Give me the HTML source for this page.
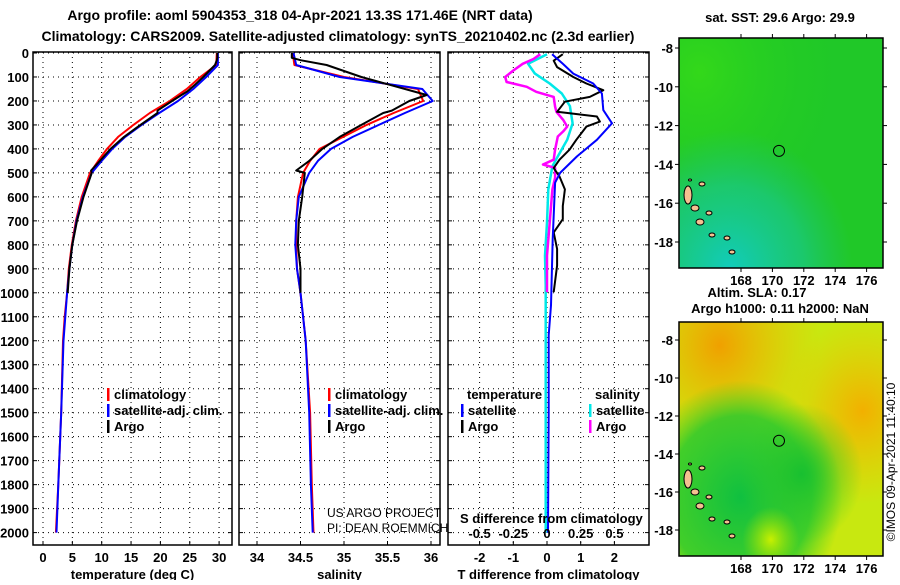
<!DOCTYPE html>
<html><head><meta charset="utf-8">
<style>
html,body{margin:0;padding:0;background:#fff;}
svg text{font-family:"Liberation Sans",sans-serif;}
.b{font-weight:bold;font-size:13px;}
.t{font-weight:bold;font-size:14px;}
</style></head>
<body>
<svg id="chart" width="900" height="580" viewBox="0 0 900 580" xmlns="http://www.w3.org/2000/svg">
<defs>
<radialGradient id="g1a" cx="0.1" cy="0.15" r="0.7"><stop offset="0" stop-color="#33d81a"/><stop offset="1" stop-color="#22cc22" stop-opacity="0"/></radialGradient>
<radialGradient id="g1b" cx="0.25" cy="1" r="0.6"><stop offset="0" stop-color="#11ccbb"/><stop offset="0.6" stop-color="#18c89a" stop-opacity="0.6"/><stop offset="1" stop-color="#1cc080" stop-opacity="0"/></radialGradient>
<radialGradient id="g2a" cx="0.2" cy="0.1" r="0.5"><stop offset="0" stop-color="#f0a000"/><stop offset="1" stop-color="#f0c000" stop-opacity="0"/></radialGradient>
<radialGradient id="g2b" cx="0.9" cy="0.38" r="0.4"><stop offset="0" stop-color="#f2b000"/><stop offset="1" stop-color="#f2c000" stop-opacity="0"/></radialGradient>
<radialGradient id="g2c" cx="0.3" cy="0.75" r="0.5"><stop offset="0" stop-color="#10c040"/><stop offset="0.7" stop-color="#20c830" stop-opacity="0.8"/><stop offset="1" stop-color="#40d020" stop-opacity="0"/></radialGradient>
<radialGradient id="g2d" cx="0.6" cy="0.65" r="0.3"><stop offset="0" stop-color="#18c030"/><stop offset="1" stop-color="#30c828" stop-opacity="0"/></radialGradient>
<radialGradient id="g2e" cx="0.45" cy="0.93" r="0.14"><stop offset="0" stop-color="#c8f000"/><stop offset="1" stop-color="#a0e000" stop-opacity="0"/></radialGradient>
</defs>
<g id="plots"></g>
<text class="t" x="300" y="20" text-anchor="middle">Argo profile: aoml 5904353_318 04-Apr-2021 13.3S 171.46E (NRT data)</text>
<text class="t" x="338" y="41" text-anchor="middle">Climatology: CARS2009. Satellite-adjusted climatology: synTS_20210402.nc (2.3d earlier)</text>

<g>
<text class="b" x="780" y="22" text-anchor="middle" font-size="12">sat. SST: 29.6 Argo: 29.9</text>
<rect x="679" y="38" width="204" height="230" fill="#20c828"/>
<rect x="679" y="38" width="204" height="230" fill="url(#g1a)"/>
<rect x="679" y="38" width="204" height="230" fill="url(#g1b)"/>
</g>
<g>
<text class="b" x="757" y="297" text-anchor="middle" font-size="12">Altim. SLA: 0.17</text>
<text class="b" x="780" y="313" text-anchor="middle" font-size="12">Argo h1000: 0.11 h2000: NaN</text>
<rect x="679" y="322" width="204" height="234" fill="#c8e810"/>
<rect x="679" y="322" width="204" height="234" fill="url(#g2a)"/>
<rect x="679" y="322" width="204" height="234" fill="url(#g2b)"/>
<rect x="679" y="322" width="204" height="234" fill="url(#g2c)"/>
<rect x="679" y="322" width="204" height="234" fill="url(#g2d)"/>
<rect x="679" y="322" width="204" height="234" fill="url(#g2e)"/>
</g>
<g id="maps-overlay"></g>
<text x="0" y="0" font-size="12" transform="translate(895,462) rotate(-90)" text-anchor="middle">©IMOS 09-Apr-2021 11:40:10</text>
</svg>
<script>
// ---------- data ----------
const depthTicks=[0,100,200,300,400,500,600,700,800,900,1000,1100,1200,1300,1400,1500,1600,1700,1800,1900,2000];
const tempTicks=[0,5,10,15,20,25,30];
const salTicks=[34,34.5,35,35.5,36];
const dTTicks=[-2,-1,0,1,2];
const dSTicks=[-0.5,-0.25,0,0.25,0.5];
const dSTickLabels=['-0.5','-0.25','0','0.25','0.5'];

const climDepth=[0,50,100,150,200,250,300,350,400,450,500,600,700,800,900,1000,1100,1200,1500,1800,2000];
const tempClim=[29.6,29.5,26.8,24.5,21.6,18.2,15.4,12.8,10.9,9.4,8.0,6.6,5.6,4.9,4.4,4.1,3.7,3.4,3.1,2.6,2.2];
const tempSat=[29.8,29.8,27.8,25.6,23.0,19.8,16.8,14.0,11.8,10.0,8.3,6.8,5.7,5.0,4.5,4.1,3.8,3.5,3.1,2.6,2.3];
const salClim=[34.41,34.43,35.0,35.85,35.91,35.57,35.26,34.99,34.72,34.61,34.53,34.47,34.45,34.45,34.46,34.5,34.53,34.56,34.61,34.63,34.65];
const salSat=[34.42,34.45,34.95,35.9,36.02,35.7,35.4,35.1,34.85,34.7,34.6,34.48,34.45,34.44,34.46,34.5,34.53,34.56,34.6,34.62,34.64];

const argoDepth=[0,20,30,50,100,130,160,175,200,240,250,300,350,400,450,490,500,600,700,800,900,1000];
const tempArgo=[29.7,29.7,29.6,29.3,27.3,26.0,24.6,23.6,22.0,19.5,19.5,16.6,13.8,11.5,9.7,8.2,8.3,6.9,5.8,5.0,4.5,4.2];
const salArgo=[34.4,34.4,34.5,34.8,35.2,35.5,35.8,35.95,35.75,35.55,35.45,35.2,34.95,34.75,34.6,34.45,34.55,34.52,34.48,34.47,34.5,34.5];

const dTSatDepth=[5,45,86,127,169,238,293,362,431,500,541,776,1052,1176,1500,2000];
const dTSat=[0.15,0.47,0.78,1.37,1.63,1.67,1.93,1.48,0.89,0.39,0.24,0.17,0.12,0.05,0.05,0.03];
const dTArgoDepth=[5,32,59,100,127,155,183,203,245,265,286,307,362,403,445,480,515,569,638,693,748,817,886,942,997];
const dTArgo=[0.47,0.2,0.3,0.78,1.17,1.67,1.27,0.53,0.3,1.48,1.57,1.17,0.87,0.67,0.37,0.2,0.37,0.53,0.47,0.47,0.2,0.3,0.3,0.25,0.2];
const dSSatDepth=[5,45,86,127,169,221,293,362,431,472,569,707,845,969,1500,2000];
const dSSat=[0,-0.14,-0.09,0.02,0.11,0.17,0.19,0.15,0.08,0.04,0.01,0,-0.015,-0.01,-0.01,-0.01];
const dSArgoDepth=[5,25,45,73,100,121,141,162,183,224,245,279,307,327,348,403,445,465,479,520,569,707,845,997];
const dSArgo=[-0.05,-0.1,-0.18,-0.25,-0.31,-0.3,-0.15,-0.08,0.05,0.06,0.07,0.12,0.15,0.12,0.08,0.06,0.05,-0.03,0.06,0.06,0.04,0.02,0,0];

// ---------- layout ----------
const NS='http://www.w3.org/2000/svg';
const plots=document.getElementById('plots');
const Y0=53, PY=0.2398, BOT=545, TOP=52;
const yScale=d=>Y0+d*PY;
const panels=[
 {name:'temperature',x0:33,x1:232,sx:v=>43+5.87*v,ticks:tempTicks,labels:tempTicks.map(String),title:'temperature (deg C)'},
 {name:'salinity',x0:239,x1:440,sx:v=>257+87*(v-34),ticks:salTicks,labels:salTicks.map(String),title:'salinity'},
 {name:'t-difference',x0:448,x1:649,sx:v=>547+33.7*v,ticks:dTTicks,labels:dTTicks.map(String),title:'T difference from climatology'}
];
const sS=v=>547+134.8*v;
function el(tag,attrs,parent,text){const e=document.createElementNS(NS,tag);for(const k in attrs)e.setAttribute(k,attrs[k]);if(text!==undefined)e.textContent=text;(parent||plots).appendChild(e);return e;}

panels.forEach((p,i)=>{
  const g=el('g',{});
  
  
  depthTicks.forEach(d=>{const y=yScale(d);el('line',{x1:p.x0,x2:p.x1,y1:y,y2:y,stroke:'#000','stroke-dasharray':'1,4','stroke-width':1},g);
    el('line',{x1:p.x0,x2:p.x0+4,y1:y,y2:y,stroke:'#000'},g);el('line',{x1:p.x1-4,x2:p.x1,y1:y,y2:y,stroke:'#000'},g);});
  p.ticks.forEach((t,k)=>{const x=p.sx(t);el('line',{x1:x,x2:x,y1:TOP,y2:BOT,stroke:'#000','stroke-dasharray':'1,4'},g);
    el('line',{x1:x,x2:x,y1:BOT-4,y2:BOT,stroke:'#000'},g);
    const tl=el('text',{x:x,y:562,'text-anchor':'middle',class:'b'},g,p.labels[k]);
    
    });
  el('rect',{x:p.x0,y:TOP,width:p.x1-p.x0,height:BOT-TOP,fill:'none',stroke:'#000','stroke-width':1.5},g);
  const tt=el('text',{x:(p.x0+p.x1)/2,y:579,'text-anchor':'middle',class:'b'},g,p.title);
  
  
});
depthTicks.forEach(d=>{const t=el('text',{x:29,y:yScale(d)+5,'text-anchor':'end',class:'b'},plots,String(d));
  
  });

function line(depths,vals,sx,color,w,name){
  const pts=depths.map((d,i)=>sx(vals[i]).toFixed(1)+','+yScale(d).toFixed(1)).join(' ');
  const l=el('polyline',{points:pts,fill:'none',stroke:color,'stroke-width':w,'stroke-linejoin':'round'});
  
  
}
const P=panels;
line(climDepth,tempClim,P[0].sx,'#f00',2,'temperature-climatology-line');
line(climDepth,tempSat,P[0].sx,'#00f',2,'temperature-satellite-line');
line(argoDepth,tempArgo,P[0].sx,'#000',2,'temperature-argo-line');
line(climDepth,salClim,P[1].sx,'#f00',2,'salinity-climatology-line');
line(climDepth,salSat,P[1].sx,'#00f',2,'salinity-satellite-line');
line(argoDepth,salArgo,P[1].sx,'#000',2,'salinity-argo-line');
line(dSSatDepth,dSSat,sS,'#00e8e8',2.5,'s-diff-satellite-line');
line(dSArgoDepth,dSArgo,sS,'#f0f',2.5,'s-diff-argo-line');
line(dTArgoDepth,dTArgo,P[2].sx,'#000',2,'t-diff-argo-line');
line(dTSatDepth,dTSat,P[2].sx,'#00f',2,'t-diff-satellite-line');

function leg(x,y,color,txt,name){
  const g=el('g',{});
  
  
  el('rect',{x:x,y:y-11,width:2.5,height:13,fill:color},g);
  el('text',{x:x+7,y:y,class:'b','font-size':'12'},g,txt);
}
[[107,P[0]],[328,P[1]]].forEach(([x,p])=>{
  leg(x,399,'#f00','climatology',p.name+'-legend-climatology');
  leg(x,415,'#00f','satellite-adj. clim.',p.name+'-legend-satellite');
  leg(x,431,'#000','Argo',p.name+'-legend-argo');
});
el('text',{x:467,y:399,class:'b','font-size':'12'},plots,'temperature');
el('text',{x:595,y:399,class:'b','font-size':'12'},plots,'salinity');
leg(461,415,'#00f','satellite','t-diff-legend-satellite');
leg(461,431,'#000','Argo','t-diff-legend-argo');
leg(589,415,'#00e8e8','satellite','s-diff-legend-satellite');
leg(589,431,'#f0f','Argo','s-diff-legend-argo');
const sd=el('text',{x:460,y:523,class:'b','font-size':'12'},plots,'S difference from climatology');


dSTicks.forEach((t,k)=>{const e=el('text',{x:sS(t),y:538,'text-anchor':'middle',class:'b','font-size':'12'},plots,dSTickLabels[k]);
  
  });
el('text',{x:327,y:517,'font-size':'12'},plots,'US ARGO PROJECT');
el('text',{x:327,y:532,'font-size':'12'},plots,'PI: DEAN ROEMMICH');

const ov=document.getElementById('maps-overlay');
const lonTicks=[168,170,172,174,176];
const latTicks=[-8,-10,-12,-14,-16,-18];
const islands=[[688,195,4,9],[695,208,4,3],[700,222,4,3],[702,184,3,2],[709,213,3,2],[712,235,3,2],[727,238,3,2],[690,180,1.5,1],[732,252,3,2]];
[[38,268,48,19.4],[322,556,340,19.0]].forEach(([top,bot,lat8,py],m)=>{
  el('rect',{x:679,y:top,width:204,height:bot-top,fill:'none',stroke:'#000','stroke-width':1.5},ov);
  lonTicks.forEach(l=>{const x=741+(l-168)*15.7;
    el('line',{x1:x,x2:x,y1:bot,y2:bot+4,stroke:'#000'},ov);el('line',{x1:x,x2:x,y1:top-4,y2:top,stroke:'#000'},ov);
    el('text',{x:x,y:bot+17,'text-anchor':'middle',class:'b','font-size':'13'},ov,String(l));});
  latTicks.forEach(l=>{const y=lat8+(-8-l)*py;
    el('line',{x1:675,x2:679,y1:y,y2:y,stroke:'#000'},ov);el('line',{x1:883,x2:887,y1:y,y2:y,stroke:'#000'},ov);
    el('text',{x:673,y:y+5,'text-anchor':'end',class:'b','font-size':'13'},ov,String(l));});
  islands.forEach(([x,y,rx,ry])=>el('ellipse',{cx:x,cy:y+(m?284:0),rx:rx,ry:ry,fill:'#f4c090',stroke:'#000','stroke-width':1},ov));
  el('circle',{cx:779,cy:lat8+5.3*py,r:5.5,fill:'none',stroke:'#000'},ov);
});
</script>
</body></html>
